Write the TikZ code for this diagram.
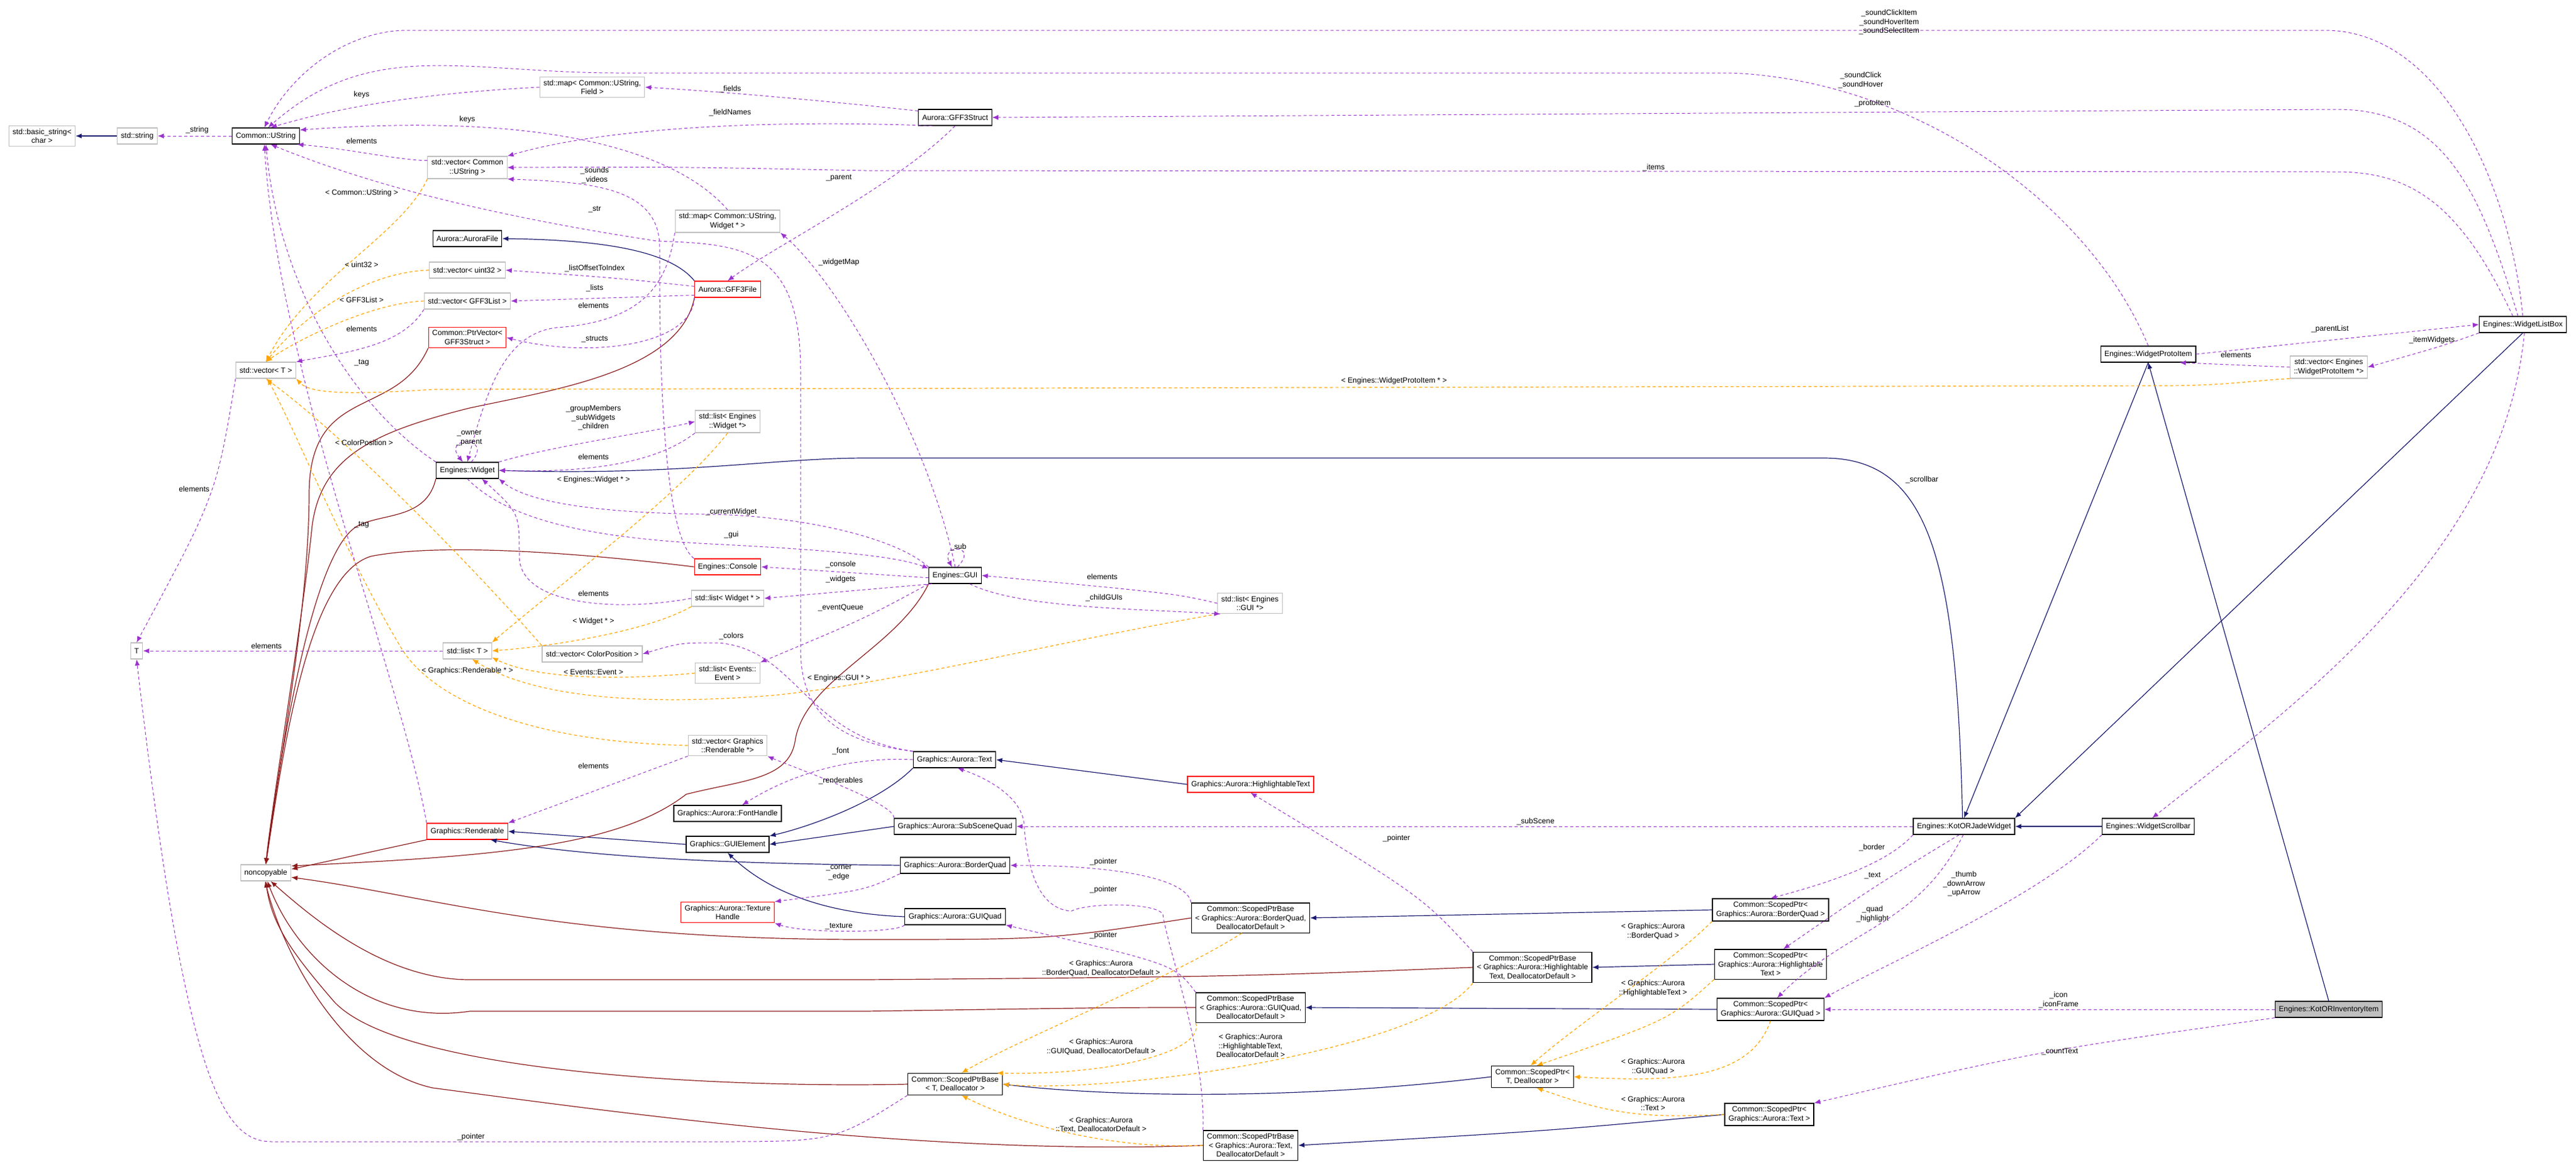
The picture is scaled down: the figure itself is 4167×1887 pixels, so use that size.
\documentclass[tikz,border=0pt]{standalone}
\usepackage{fontspec}
\setmainfont{Liberation Sans}
\usetikzlibrary{arrows.meta}
\definecolor{purp}{HTML}{9A32CD}
\definecolor{orng}{HTML}{FFA500}
\definecolor{nblue}{HTML}{191970}
\definecolor{dred}{HTML}{8B1A1A}
\definecolor{lgray}{HTML}{BFBFBF}
\tikzset{
 box/.style={draw=black,line width=0.6pt,fill=white,align=center,inner xsep=3pt,inner ysep=2.5pt,minimum height=13pt,font=\fontsize{6.1}{7.3}\selectfont},
 gbox/.style={box,draw=lgray},
 rbox/.style={box,draw=red},
 lbl/.style={align=center,inner sep=0pt,font=\fontsize{6.1}{7.3}\selectfont},
 usage/.style={draw=purp,line width=0.5pt,dash pattern=on 2.5pt off 2pt,-{Latex[length=5pt,width=4pt]}},
 tmpl/.style={draw=orng,line width=0.6pt,dash pattern=on 2.5pt off 2pt,-{Latex[length=5pt,width=4pt]}},
 inh/.style={draw=nblue,line width=0.6pt,-{Latex[length=5pt,width=4pt]}},
 pinh/.style={draw=dred,line width=0.6pt,-{Latex[length=5pt,width=4pt]}},
}
\begin{document}
\begin{tikzpicture}[x=0.5pt,y=-0.5pt]
\useasboundingbox (0,0) rectangle (4167,1887);
% nodes
\node[box] (ustr) at (430,220) {Common::UString};
\node[gbox] (bstr) at (68,220) {std::basic\_string<\\char >};
\node[gbox] (sstr) at (222,220) {std::string};
\node[gbox] (mapF) at (958,141) {std::map< Common::UString,\\ Field >};
\node[gbox] (vecU) at (756,271) {std::vector< Common\\::UString >};
\node[gbox] (mapW) at (1177,358) {std::map< Common::UString,\\ Widget * >};
\node[box] (aurf) at (756,386) {Aurora::AuroraFile};
\node[gbox] (vecu32) at (756,437) {std::vector< uint32 >};
\node[gbox] (vecgl) at (756,487) {std::vector< GFF3List >};
\node[rbox] (ptrv) at (756,546) {Common::PtrVector<\\ GFF3Struct >};
\node[rbox] (gff3f) at (1177,468) {Aurora::GFF3File};
\node[gbox] (vecT) at (430,599) {std::vector< T >};
\node[box] (gff3s) at (1545,190) {Aurora::GFF3Struct};
\node[gbox] (listW) at (1177,682) {std::list< Engines\\::Widget *>};
\node[box] (wid) at (756,761) {Engines::Widget};
\node[rbox] (cons) at (1177,917) {Engines::Console};
\node[gbox] (listWp) at (1177,968) {std::list< Widget * >};
\node[box] (gui) at (1545,931) {Engines::GUI};
\node[gbox] (listGUI) at (2022,976) {std::list< Engines\\::GUI *>};
\node[gbox] (T) at (221,1053) {T};
\node[gbox] (listT) at (756,1053) {std::list< T >};
\node[gbox] (vecCP) at (958,1058) {std::vector< ColorPosition >};
\node[gbox] (listEv) at (1177,1089) {std::list< Events::\\Event >};
\node[gbox] (vecR) at (1177,1206) {std::vector< Graphics\\::Renderable *>};
\node[rbox] (rend) at (756,1345) {Graphics::Renderable};
\node[gbox] (nonc) at (430,1412) {noncopyable};
\node[box] (fonth) at (1177,1316) {Graphics::Aurora::FontHandle};
\node[box] (guie) at (1177,1366) {Graphics::GUIElement};
\node[rbox] (texh) at (1177,1476) {Graphics::Aurora::Texture\\Handle};
\node[box] (text) at (1544,1229) {Graphics::Aurora::Text};
\node[rbox] (htext) at (2023,1269) {Graphics::Aurora::HighlightableText};
\node[box] (ssq) at (1545,1337) {Graphics::Aurora::SubSceneQuad};
\node[box] (bq) at (1545,1400) {Graphics::Aurora::BorderQuad};
\node[box] (gq) at (1545,1483) {Graphics::Aurora::GUIQuad};
\node[box] (spbBQ) at (2023,1485) {Common::ScopedPtrBase\\< Graphics::Aurora::BorderQuad,\\ DeallocatorDefault >};
\node[box] (spbHT) at (2479,1565) {Common::ScopedPtrBase\\< Graphics::Aurora::Highlightable\\Text, DeallocatorDefault >};
\node[box] (spbGQ) at (2023,1630) {Common::ScopedPtrBase\\< Graphics::Aurora::GUIQuad,\\ DeallocatorDefault >};
\node[box] (spbT) at (1545,1754) {Common::ScopedPtrBase\\< T, Deallocator >};
\node[box] (spT) at (2479,1742) {Common::ScopedPtr<\\ T, Deallocator >};
\node[box] (spbTx) at (2023,1853) {Common::ScopedPtrBase\\< Graphics::Aurora::Text,\\ DeallocatorDefault >};
\node[box] (kjw) at (3177,1337) {Engines::KotORJadeWidget};
\node[box] (wsb) at (3475,1337) {Engines::WidgetScrollbar};
\node[box] (spBQ) at (2864,1472) {Common::ScopedPtr<\\ Graphics::Aurora::BorderQuad >};
\node[box] (spHT) at (2864,1560) {Common::ScopedPtr<\\ Graphics::Aurora::Highlightable\\Text >};
\node[box] (spGQ) at (2864,1633) {Common::ScopedPtr<\\ Graphics::Aurora::GUIQuad >};
\node[box,fill=lgray] (kii) at (3767,1633) {Engines::KotORInventoryItem};
\node[box] (spTx) at (2862,1803) {Common::ScopedPtr<\\ Graphics::Aurora::Text >};
\node[box] (wpi) at (3475,573) {Engines::WidgetProtoItem};
\node[box] (wlb) at (4081,525) {Engines::WidgetListBox};
\node[gbox] (vecWPI) at (3767,594) {std::vector< Engines\\::WidgetProtoItem *>};
% inheritance
\draw[inh] (sstr) -- (bstr);
\draw[inh] (gff3f.north west) .. controls (1080,400) and (950,388) .. (aurf.east);
\draw[inh] (guie.west) -- (rend.east);
\draw[inh] (text.south west) .. controls (1420,1300) and (1300,1340) .. (guie.north east);
\draw[inh] (ssq.west) -- (guie.east);
\draw[inh] (bq.west) .. controls (1300,1398) and (1000,1395) .. (rend.-20);
\draw[inh] (gq.west) .. controls (1330,1478) and (1240,1440) .. (guie.south);
\draw[inh] (htext.west) -- (text.east);
\draw[inh] (spBQ.west) -- (spbBQ.east);
\draw[inh] (spHT.west) -- (spbHT.east);
\draw[inh] (spGQ.west) -- (spbGQ.east);
\draw[inh] (spTx.west) .. controls (2500,1830) .. (spbTx.east);
\draw[inh] (spT.west) .. controls (2100,1780) and (1800,1775) .. (spbT.east);
\draw[inh] (wsb.west) -- (kjw.east);
\draw[inh] (kjw.100) .. controls (3165,900) and (3120,741) .. (2950,741) -- (1400,741) .. controls (1250,741) and (1100,770) .. (wid.east);
\draw[inh] (wpi.south) -- (kjw.north);
\draw[inh] (wlb.south) -- (kjw.north east);
\draw[inh] (kii.north) -- (wpi.south);
% private inheritance
\draw[pinh] (gff3f.south west) .. controls (1100,600) and (900,630) .. (760,660) .. controls (600,700) and (520,740) .. (505,850) .. controls (490,1000) and (440,1300) .. (nonc.north);
\draw[pinh] (ptrv.south west) .. controls (640,680) and (500,620) .. (500,800) .. controls (500,1000) and (440,1300) .. (nonc.north);
\draw[pinh] (wid.south west) .. controls (690,840) and (620,830) .. (580,850) .. controls (520,880) and (470,1100) .. (nonc.north);
\draw[pinh] (cons.west) .. controls (900,890) and (700,880) .. (600,900) .. controls (500,930) and (460,1200) .. (nonc.north);
\draw[pinh] (gui.south west) .. controls (1450,1050) and (1300,1100) .. (1286,1200) .. controls (1275,1262) and (1200,1262) .. (1110,1285) .. controls (1000,1370) and (800,1385) .. (nonc.15);
\draw[pinh] (rend.south west) -- (nonc.8);
\draw[pinh] (spbBQ.west) .. controls (1700,1520) .. (1400,1520) .. controls (900,1520) and (700,1450) .. (nonc.-10);
\draw[pinh] (spbHT.west) .. controls (2000,1580) .. (1400,1585) -- (760,1585) .. controls (620,1585) and (500,1480) .. (nonc.-60);
\draw[pinh] (spbGQ.west) .. controls (1800,1630) .. (1400,1636) -- (760,1636) .. controls (600,1660) and (480,1550) .. (nonc.-80);
\draw[pinh] (spbT.west) .. controls (1200,1760) and (650,1740) .. (540,1620) .. controls (480,1550) and (440,1500) .. (nonc.south);
\draw[pinh] (spbTx.west) .. controls (1500,1870) and (1000,1800) .. (700,1760) .. controls (560,1730) and (460,1550) .. (nonc.-95);
% templates
\draw[tmpl] (vecU.south west) .. controls (650,380) and (500,450) .. (vecT.north);
\draw[tmpl] (vecu32.west) .. controls (600,440) and (500,500) .. (vecT.north);
\draw[tmpl] (vecgl.west) .. controls (600,490) and (480,550) .. (vecT.north);
\draw[tmpl] (vecWPI.south west) .. controls (3650,615) and (3600,624) .. (3500,624) -- (700,630) .. controls (550,640) and (500,635) .. (vecT.south east);
\draw[tmpl] (vecCP.north west) .. controls (750,900) and (550,700) .. (vecT.south);
\draw[tmpl] (vecR.west) .. controls (850,1200) and (700,1130) .. (650,1050) .. controls (560,900) and (480,700) .. (vecT.-80);
\draw[tmpl] (listW.south) .. controls (1100,800) and (900,950) .. (listT.north east);
\draw[tmpl] (listWp.south west) .. controls (1050,1020) and (900,1045) .. (listT.east);
\draw[tmpl] (listEv.west) .. controls (950,1105) and (850,1090) .. (listT.-15);
\draw[tmpl] (listGUI.south west) .. controls (1700,1040) and (1450,1105) .. (1250,1125) .. controls (1000,1145) and (850,1120) .. (listT.-60);
\draw[tmpl] (spbBQ.-120) .. controls (1900,1580) and (1650,1680) .. (spbT.60);
\draw[tmpl] (spbGQ.south west) .. controls (1950,1700) and (1800,1740) .. (spbT.15);
\draw[tmpl] (spbHT.south west) .. controls (2300,1700) and (1800,1770) .. (spbT.east);
\draw[tmpl] (spbTx.west) .. controls (1800,1860) and (1650,1820) .. (spbT.-60);
\draw[tmpl] (spBQ.south west) .. controls (2700,1560) and (2560,1650) .. (spT.100);
\draw[tmpl] (spHT.south west) .. controls (2700,1650) .. (spT.70);
\draw[tmpl] (spGQ.south) .. controls (2830,1750) and (2700,1750) .. (spT.east);
\draw[tmpl] (spTx.west) .. controls (2650,1810) and (2600,1800) .. (spT.-70);
% usage
\draw[usage] (ustr.west) -- (sstr.east);
\draw[usage] (mapF.west) .. controls (700,150) and (560,170) .. (ustr.60);
\draw[usage] (gff3s.170) .. controls (1400,170) and (1200,150) .. (mapF.east);
\draw[usage] (gff3s.200) .. controls (1300,195) and (1000,200) .. (vecU.north east);
\draw[usage] (vecU.170) .. controls (650,260) and (560,240) .. (ustr.-15);
\draw[usage] (mapW.north) .. controls (1100,250) and (900,180) .. (ustr.10);
\draw[usage] (gff3f.175) .. controls (1000,450) .. (vecu32.east);
\draw[usage] (gff3f.190) -- (vecgl.east);
\draw[usage] (gff3f.south west) .. controls (1120,560) and (950,580) .. (ptrv.east);
\draw[usage] (gff3s.south) .. controls (1450,300) and (1250,400) .. (gff3f.north);
\draw[usage] (vecgl.south west) .. controls (650,560) and (560,570) .. (vecT.north east);
\draw[usage] (wid.north west) .. controls (560,650) and (450,450) .. (ustr.south);
\draw[usage] (rend.north west) .. controls (650,1100) and (450,600) .. (ustr.-100);
\draw[usage] (cons.north west) .. controls (1065,860) and (1067,500) .. (1067,400) .. controls (1067,300) and (950,295) .. (vecU.south east);
\draw[usage] (text.north west) .. controls (1350,1200) and (1295,1150) .. (1295,1050) -- (1295,600) .. controls (1295,400) and (1200,395) .. (1063,390) .. controls (800,350) and (600,300) .. (ustr.-60);
\draw[usage] (mapW.south west) .. controls (1080,450) and (1050,520) .. (900,530) .. controls (820,540) and (790,620) .. (wid.north);
\draw[usage] (gui.north) .. controls (1500,700) and (1350,450) .. (mapW.south east);
\draw[usage] (vecT.south west) .. controls (350,800) .. (T.north);
\draw[usage] (listT.west) -- (T.east);
\draw[usage] (wid.65) .. controls (800,705) and (715,705) .. (wid.118);
\draw[usage] (wid.north east) .. controls (900,720) and (1050,700) .. (listW.west);
\draw[usage] (listW.south west) .. controls (1060,750) and (950,765) .. (wid.east);
\draw[usage] (gui.north west) .. controls (1450,870) and (1300,835) .. (1150,832) .. controls (950,830) and (850,810) .. (wid.south east);
\draw[usage] (wid.south) .. controls (820,840) and (950,870) .. (1150,880) .. controls (1350,890) and (1450,900) .. (gui.165);
\draw[usage] (gui.185) -- (cons.east);
\draw[usage] (gui.200) -- (listWp.east);
\draw[usage] (listWp.west) .. controls (1000,990) and (840,980) .. (840,900) .. controls (840,830) .. (wid.-30);
\draw[usage] (gui.south west) .. controls (1400,1000) .. (listEv.north east);
\draw[usage] (text.north west) .. controls (1300,1190) and (1290,1050) .. (1161,1040) .. controls (1100,1040) .. (vecCP.east);
\draw[usage] (text.west) .. controls (1400,1225) and (1300,1240) .. (fonth.30);
\draw[usage] (vecR.south west) -- (rend.north east);
\draw[usage] (ssq.north west) .. controls (1450,1300) and (1280,1240) .. (vecR.south east);
\draw[usage] (bq.south west) .. controls (1400,1440) .. (texh.north east);
\draw[usage] (gq.south west) .. controls (1450,1510) and (1300,1510) .. (texh.south east);
\draw[usage] (gui.75) .. controls (1585,880) and (1520,880) .. (gui.110);
\draw[usage] (listGUI.west) .. controls (1900,960) .. (gui.east);
\draw[usage] (gui.-30) .. controls (1650,985) and (1850,985) .. (listGUI.200);
\draw[usage] (kjw.west) -- (ssq.east);
\draw[usage] (spbHT.north west) .. controls (2300,1450) .. (htext.south);
\draw[usage] (spbBQ.north west) .. controls (1920,1420) and (1800,1400) .. (bq.east);
\draw[usage] (spbGQ.north west) .. controls (1900,1560) .. (gq.south east);
\draw[usage] (spbTx.north west) .. controls (1950,1700) and (1890,1540) .. (1881,1479) .. controls (1870,1460) and (1760,1460) .. (1733,1474) .. controls (1670,1470) and (1660,1380) .. (1656,1329) .. controls (1650,1290) and (1600,1260) .. (text.-70);
\draw[usage] (spbT.south west) .. controls (1350,1847) .. (1150,1847) -- (440,1847) .. controls (360,1847) and (300,1750) .. (T.south);
\draw[usage] (kjw.south west) .. controls (3050,1400) and (2950,1430) .. (spBQ.north);
\draw[usage] (kjw.-120) .. controls (3020,1440) and (2980,1470) .. (spHT.50);
\draw[usage] (kjw.-95) .. controls (3100,1500) and (2990,1500) .. (spGQ.60);
\draw[usage] (wsb.south west) .. controls (3300,1450) and (3050,1560) .. (spGQ.north east);
\draw[usage] (kii.west) -- (spGQ.east);
\draw[usage] (kii.south west) .. controls (3300,1700) .. (spTx.north east);
\draw[usage] (wlb.-80) .. controls (4050,900) and (3700,1150) .. (wsb.65);
\draw[usage] (wpi.east) -- (wlb.west);
\draw[usage] (wlb.south west) .. controls (3950,560) .. (vecWPI.east);
\draw[usage] (vecWPI.west) -- (wpi.-15);
\draw[usage] (wlb.north) .. controls (4060,300) and (3950,49) .. (3760,49) -- (660,49) .. controls (560,49) and (470,120) .. (ustr.100);
\draw[usage] (wpi.north) .. controls (3380,330) and (3100,130) .. (2800,118) -- (1000,118) .. controls (750,118) and (600,60) .. (ustr.75);
\draw[usage] (wlb.120) .. controls (4010,300) and (3950,177) .. (3780,177) -- (gff3s.east);
\draw[usage] (wlb.140) .. controls (3980,330) and (3900,278) .. (3780,278) -- (1400,276) .. controls (1100,270) .. (vecU.east);
% labels
\node[lbl] (l1) at (319,210) {\_string};
\node[lbl] (l2) at (585,153) {keys};
\node[lbl] (l3) at (1181,144) {\_fields};
\node[lbl] (l4) at (756,193) {keys};
\node[lbl] (l5) at (1181,182) {\_fieldNames};
\node[lbl] (l6) at (585,228) {elements};
\node[lbl] (l7) at (962,284) {\_sounds\\\_videos};
\node[lbl] (l8) at (1357,288) {\_parent};
\node[lbl] (l9) at (962,339) {\_str};
\node[lbl] (l10) at (585,312) {< Common::UString >};
\node[lbl] (l11) at (962,434) {\_listOffsetToIndex};
\node[lbl] (l12) at (962,466) {\_lists};
\node[lbl] (l13) at (960,494) {elements};
\node[lbl] (l14) at (585,428) {< uint32 >};
\node[lbl] (l15) at (585,485) {< GFF3List >};
\node[lbl] (l16) at (585,532) {elements};
\node[lbl] (l17) at (962,549) {\_structs};
\node[lbl] (l18) at (585,587) {\_tag};
\node[lbl] (l19) at (1357,424) {\_widgetMap};
\node[lbl] (l20) at (960,676) {\_groupMembers\\\_subWidgets\\\_children};
\node[lbl] (l21) at (759,709) {\_owner\\\_parent};
\node[lbl] (l22) at (589,716) {< ColorPosition >};
\node[lbl] (l23) at (960,739) {elements};
\node[lbl] (l24) at (960,776) {< Engines::Widget * >};
\node[lbl] (l25) at (314,791) {elements};
\node[lbl] (l26) at (1183,828) {\_currentWidget};
\node[lbl] (l27) at (585,849) {\_tag};
\node[lbl] (l28) at (1183,865) {\_gui};
\node[lbl] (l29) at (1360,913) {\_console};
\node[lbl] (l30) at (1360,937) {\_widgets};
\node[lbl] (l31) at (960,960) {elements};
\node[lbl] (l32) at (1360,983) {\_eventQueue};
\node[lbl] (l33) at (960,1005) {< Widget * >};
\node[lbl] (l34) at (1183,1029) {\_colors};
\node[lbl] (l35) at (431,1045) {elements};
\node[lbl] (l36) at (756,1085) {< Graphics::Renderable * >};
\node[lbl] (l37) at (960,1087) {< Events::Event >};
\node[lbl] (l38) at (1357,1097) {< Engines::GUI * >};
\node[lbl] (l39) at (1360,1215) {\_font};
\node[lbl] (l40) at (960,1239) {elements};
\node[lbl] (l41) at (1360,1263) {\_renderables};
\node[lbl] (l42) at (1357,1412) {\_corner\\\_edge};
\node[lbl] (l43) at (1357,1499) {\_texture};
\node[lbl] (l44) at (1550,885) {\_sub};
\node[lbl] (l45) at (1783,933) {elements};
\node[lbl] (l46) at (1786,967) {\_childGUIs};
\node[lbl] (l47) at (2675,271) {\_items};
\node[lbl] (l48) at (2255,616) {< Engines::WidgetProtoItem * >};
\node[lbl] (l49) at (2484,1329) {\_subScene};
\node[lbl] (l50) at (2259,1356) {\_pointer};
\node[lbl] (l51) at (1785,1394) {\_pointer};
\node[lbl] (l52) at (1785,1439) {\_pointer};
\node[lbl] (l53) at (1785,1513) {\_pointer};
\node[lbl] (l54) at (1781,1567) {< Graphics::Aurora\\::BorderQuad, DeallocatorDefault >};
\node[lbl] (l55) at (1781,1694) {< Graphics::Aurora\\::GUIQuad, DeallocatorDefault >};
\node[lbl] (l56) at (2023,1692) {< Graphics::Aurora\\::HighlightableText,\\DeallocatorDefault >};
\node[lbl] (l57) at (1781,1820) {< Graphics::Aurora\\::Text, DeallocatorDefault >};
\node[lbl] (l58) at (2674,1507) {< Graphics::Aurora\\::BorderQuad >};
\node[lbl] (l59) at (2674,1599) {< Graphics::Aurora\\::HighlightableText >};
\node[lbl] (l60) at (2674,1726) {< Graphics::Aurora\\::GUIQuad >};
\node[lbl] (l61) at (2674,1785) {< Graphics::Aurora\\::Text >};
\node[lbl] (l62) at (762,1839) {\_pointer};
\node[lbl] (l63) at (3028,1371) {\_border};
\node[lbl] (l64) at (3029,1417) {\_text};
\node[lbl] (l65) at (3177,1430) {\_thumb\\\_downArrow\\\_upArrow};
\node[lbl] (l66) at (3029,1479) {\_quad\\\_highlight};
\node[lbl] (l67) at (3330,1618) {\_icon\\\_iconFrame};
\node[lbl] (l68) at (3332,1701) {\_countText};
\node[lbl] (l69) at (3109,776) {\_scrollbar};
\node[lbl] (l70) at (3769,532) {\_parentList};
\node[lbl] (l71) at (3934,550) {\_itemWidgets};
\node[lbl] (l72) at (3617,574) {elements};
\node[lbl] (l73) at (3056,36) {\_soundClickItem\\\_soundHoverItem\\\_soundSelectItem};
\node[lbl] (l74) at (3010,130) {\_soundClick\\\_soundHover};
\node[lbl] (l75) at (3029,168) {\_protoItem};
\end{tikzpicture}
\end{document}
